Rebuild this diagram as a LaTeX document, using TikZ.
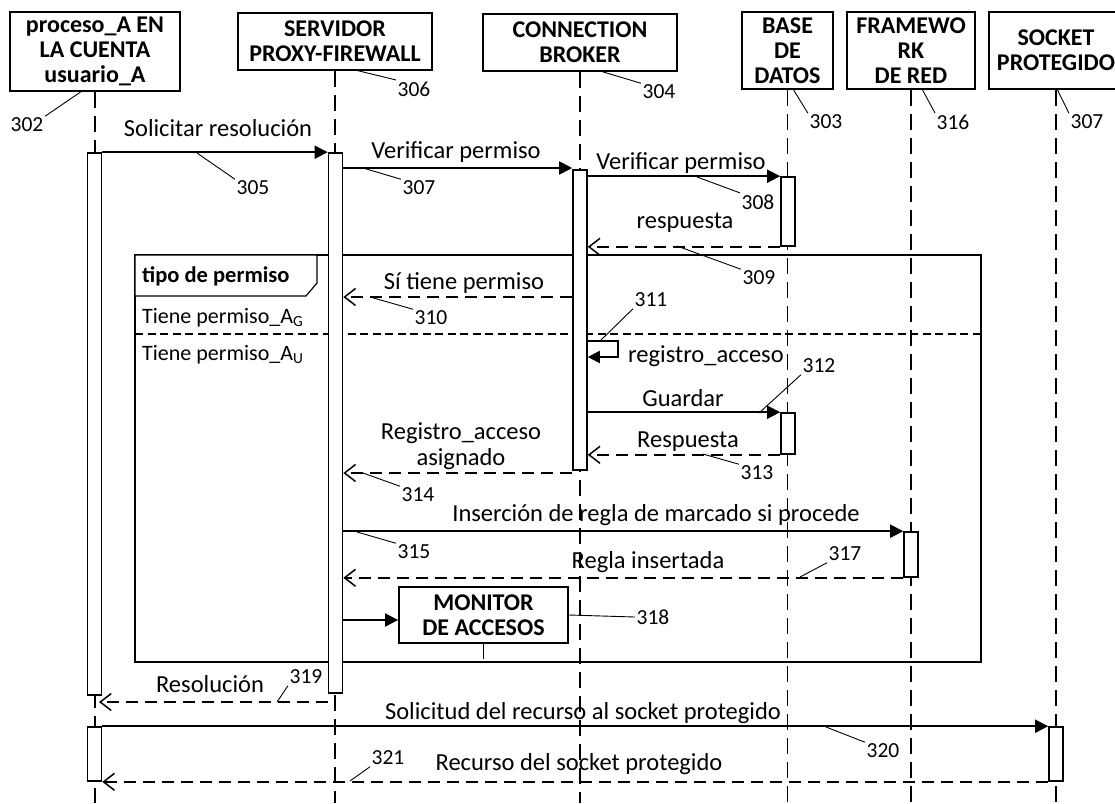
\documentclass[tikz,border=0pt]{standalone}
\usepackage{fontspec}
\setmainfont{Carlito}
\usetikzlibrary{arrows.meta}

\newcommand\lblfont{\fontsize{24.5}{26}\selectfont}
\newcommand\numfont{\fontsize{21.5}{24}\selectfont}
\newcommand\headfont{\fontsize{24}{25}\selectfont\bfseries}
\newcommand\altfont{\fontsize{22}{24}\selectfont}

\begin{document}
\begin{tikzpicture}[x=1pt,y=-1pt,
  head/.style={draw, line width=1.8pt, fill=white, align=center, font=\headfont, inner sep=0pt},
  life/.style={line width=1.8pt, dash pattern=on 16pt off 8pt},
  act/.style={draw, line width=1.6pt, fill=white, minimum width=14pt, inner sep=0pt},
  msg/.style={line width=1.8pt, -{Triangle[length=13pt,width=13pt]}},
  ret/.style={line width=1.6pt, dash pattern=on 12pt off 7pt,
              -{Straight Barb[length=11pt,width=17pt,line width=1.5pt]}},
  lead/.style={line width=0.9pt},
  num/.style={font=\numfont, inner sep=1.5pt},
  lbl/.style={font=\lblfont, inner sep=0pt},
  frame/.style={line width=1.2pt}]
\useasboundingbox (0,0) rectangle (1115,803);
\clip (0,0) rectangle (1115,803);

% participants
\node[head, minimum width=170, minimum height=79] (hA) at (95,51.5) {proceso\_A EN\\LA CUENTA\\usuario\_A};
\node[head, minimum width=194, minimum height=57] (hS) at (335,41.5) {SERVIDOR\\PROXY-FIREWALL};
\node[head, minimum width=194, minimum height=57] (hC) at (580,42.5) {CONNECTION\\BROKER};
\node[head, minimum width=91, minimum height=77] (hD) at (787.5,50.5) {BASE\\DE\\DATOS};
\node[head, minimum width=128, minimum height=77] (hF) at (911,50.5) {FRAMEWO\\RK\\DE RED};
\node[head, minimum width=134, minimum height=77] (hP) at (1056,50.5) {SOCKET\\PROTEGIDO};

% lifelines
\foreach \h in {hA,hS,hC,hD,hF,hP}
  \draw[life] (\h.south) -- (\h.south |- 0,803);

% combined fragment
\draw[frame] (135,255) rectangle (981,662);
\draw[frame, fill=white] (135,255) -- (317,255) -- (317,283) -- (306,296) -- (135,296) -- cycle;
\draw[frame, dash pattern=on 8pt off 4.5pt] (135,334) -- (981,334);
\node[font=\fontsize{22.5}{24}\selectfont\bfseries, inner sep=0pt, anchor=west] (guard) at (142,276) {tipo de permiso};
\node[font=\altfont, inner sep=0pt, anchor=west] (altG) at (142,318) {Tiene permiso\_A\textsubscript{G}};
\node[font=\altfont, inner sep=0pt, anchor=west] (altU) at (142,355) {Tiene permiso\_A\textsubscript{U}};

% activation bars
\node[act, minimum height=542] (aA1) at (94.5,424) {};
\node[act, minimum height=540] (aS1) at (335.5,423) {};
\node[act, minimum height=300] (aC1) at (580,320) {};
\node[act, minimum height=69] (aD1) at (788,211.5) {};
\node[act, minimum height=41] (aD2) at (788,433.5) {};
\node[act, minimum height=45] (aF1) at (911,554.5) {};
\node[act, minimum height=54] (aP1) at (1056,754) {};
\node[act, minimum height=54] (aA2) at (94.5,754) {};

% access monitor
\node[head, minimum width=169, minimum height=56] (mon) at (483.5,615) {MONITOR\\DE ACCESOS};
\draw[line width=1.6pt] (mon.south) -- ++(0,15);

% messages
\draw[msg] (aA1.north east) -- (aS1.north west);
\draw[msg] (aS1.east |- 0,168) -- (aC1.west |- 0,168);
\draw[msg] (aC1.east |- aD1.north) -- (aD1.north west);
\draw[ret] (aD1.south west) -- (aC1.east |- aD1.south);
\draw[ret] (aC1.west |- 0,297) -- (aS1.east |- 0,297);
\draw[line width=1.8pt, -{Triangle[length=12pt,width=12pt]}] (aC1.east |- 0,341) -- ++(30,0) -- ++(0,16) -- (aC1.east |- 0,357);
\draw[msg] (aC1.east |- aD2.north) -- (aD2.north west);
\draw[ret] (aD2.south west) -- (aC1.east |- aD2.south);
\draw[ret] (aC1.west |- 0,473) -- (aS1.east |- 0,473);
\draw[msg] (aS1.east |- aF1.north) -- (aF1.north west);
\draw[ret] (aF1.south west) -- (aS1.east |- aF1.south);
\draw[msg] (aS1.east |- 0,620) -- (mon.west |- 0,620);
\draw[ret] (aS1.west |- 0,702) -- ([xshift=4pt]hA.south |- 0,702);
\draw[msg] (aA2.north east) -- (aP1.north west);
\draw[ret] (aP1.south west) -- (aA2.south east);

% message labels
\node[lbl] (t1) at (218,128) {Solicitar resolución};
\node[lbl] (t2) at (456,152) {Verificar permiso};
\node[lbl] (t3) at (681,163) {Verificar permiso};
\node[lbl] (t4) at (685,223) {respuesta};
\node[lbl] (t5) at (464,283) {Sí tiene permiso};
\node[lbl, anchor=west] (t6) at (628,356) {registro\_acceso};
\node[lbl] (t7) at (683,398) {Guardar};
\node[lbl] (t8) at (688,442) {Respuesta};
\node[lbl, align=center] (t9) at (461,446) {Registro\_acceso\\asignado};
\node[lbl] (t10) at (656,515) {Inserción de regla de marcado si procede};
\node[lbl] (t11) at (648,562) {Regla insertada};
\node[lbl] (t12) at (210,684) {Resolución};
\node[lbl] (t13) at (583,713) {Solicitud del recurso al socket protegido};
\node[lbl] (t14) at (579,764) {Recurso del socket protegido};

% reference numerals
\node[num] (n302) at (27,125) {302};
\node[num] (n306) at (414,89) {306};
\node[num] (n304) at (659,92) {304};
\node[num] (n303) at (826,122) {303};
\node[num] (n316) at (953,122) {316};
\node[num] (n307b) at (1087,122) {307};
\node[num] (n305) at (253,188) {305};
\node[num] (n307a) at (419,188) {307};
\node[num] (n308) at (758,202) {308};
\node[num] (n309) at (759,278) {309};
\node[num] (n310) at (431,318) {310};
\node[num] (n311) at (651,300) {311};
\node[num] (n312) at (819,366) {312};
\node[num] (n313) at (757,473) {313};
\node[num] (n314) at (418,495) {314};
\node[num] (n315) at (414,552) {315};
\node[num] (n317) at (845,554) {317};
\node[num] (n318) at (653,617) {318};
\node[num] (n319) at (306,677) {319};
\node[num] (n320) at (883,751) {320};
\node[num] (n321) at (388,758) {321};

% leader lines
\draw[lead] (82,91) coordinate (p302) -- (n302.north east);
\draw[lead] (355,70) coordinate (p306) -- (n306.north west);
\draw[lead] (600,71) coordinate (p304) -- (n304.north west);
\draw[lead] (793,89) coordinate (p303) -- (n303.north west);
\draw[lead] (922,89) coordinate (p316) -- (n316.north west);
\draw[lead] (1057,89) coordinate (p307b) -- (n307b.north west);
\draw[lead] (197,153) coordinate (p305) -- (n305.north west);
\draw[lead] (363,168) coordinate (p307a) -- (n307a.north west);
\draw[lead] (697,177) coordinate (p308) -- (n308.north west);
\draw[lead] (677,246) coordinate (p309) -- (n309.north west);
\draw[lead] (370,297) coordinate (p310) -- (n310.north west);
\draw[lead] (600,341) coordinate (p311) -- (n311.south west);
\draw[lead] (759,413) coordinate (p312) -- (n312.south west);
\draw[lead] (703,454) coordinate (p313) -- (n313.north west);
\draw[lead] (363,473) coordinate (p314) -- (n314.north west);
\draw[lead] (357,532) coordinate (p315) -- (n315.north west);
\draw[lead] (800,577) coordinate (p317) -- (n317.south west);
\draw[lead] (mon.east) -- (n318.west);
\draw[lead] (277,702) coordinate (p319) -- (n319.south west);
\draw[lead] (826,727) coordinate (p320) -- (n320.north west);
\draw[lead] (350,781) coordinate (p321) -- (n321.south west);
\end{tikzpicture}
\end{document}
